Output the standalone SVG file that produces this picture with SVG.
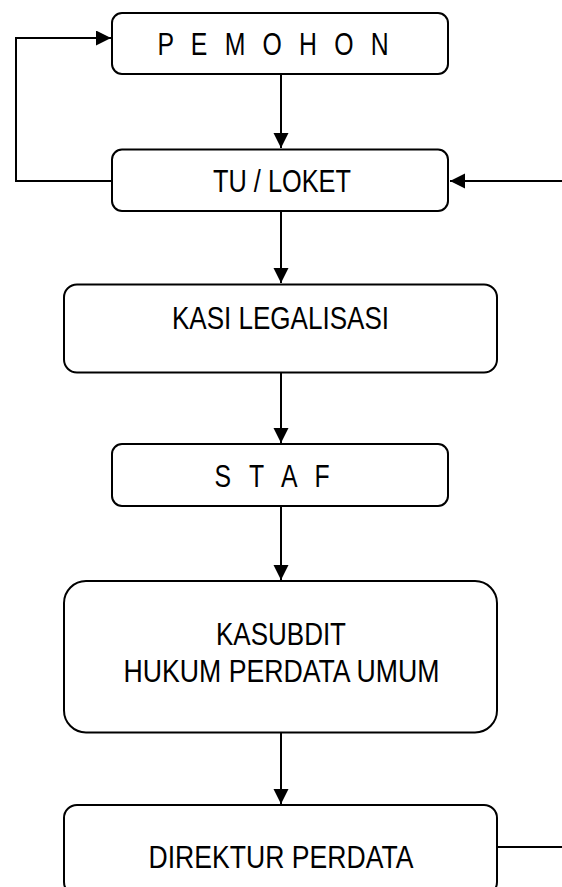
<svg xmlns="http://www.w3.org/2000/svg" width="562" height="887" viewBox="0 0 562 887">
<style>
.box{fill:#fff;stroke:#000;stroke-width:2}
.lbl{font-family:"Liberation Sans Narrow","Liberation Sans",Arial,sans-serif;font-size:31px;fill:#000}
.con{fill:none;stroke:#000;stroke-width:2}
</style>
<defs>
<marker id="ah" markerUnits="userSpaceOnUse" markerWidth="16" markerHeight="16" refX="15" refY="7.5" orient="auto">
<path d="M0,0 L15,7.5 L0,15 z" fill="#000"/>
</marker>
</defs>
<g id="connectors">
<line class="con" x1="281" y1="74" x2="281" y2="148" marker-end="url(#ah)"/>
<line class="con" x1="281" y1="211" x2="281" y2="283" marker-end="url(#ah)"/>
<line class="con" x1="281" y1="373" x2="281" y2="443" marker-end="url(#ah)"/>
<line class="con" x1="281" y1="506" x2="281" y2="580" marker-end="url(#ah)"/>
<line class="con" x1="281" y1="732" x2="281" y2="804" marker-end="url(#ah)"/>
<polyline class="con" points="112,181 16,181 16,38 111,38" marker-end="url(#ah)"/>
<line class="con" x1="562" y1="181" x2="450" y2="181" marker-end="url(#ah)"/>
<line class="con" x1="497" y1="847" x2="562" y2="847"/>
</g>
<g id="pemohon">
<rect class="box" x="112" y="13" width="336" height="61" rx="10"/>
<text class="lbl" transform="translate(157.5,54.5) scale(0.8,1)" x="0" y="0" textLength="289" lengthAdjust="spacing">P E M O H O N</text>
</g>
<g id="tu-loket">
<rect class="box" x="112" y="149.5" width="336" height="61.5" rx="10"/>
<text class="lbl" x="213" y="191.7" textLength="138" lengthAdjust="spacingAndGlyphs">TU / LOKET</text>
</g>
<g id="kasi-legalisasi">
<rect class="box" x="64" y="284.5" width="433" height="88" rx="13"/>
<text class="lbl" x="172" y="328.5" textLength="217" lengthAdjust="spacingAndGlyphs">KASI LEGALISASI</text>
</g>
<g id="staf">
<rect class="box" x="112" y="444" width="336" height="62" rx="10"/>
<text class="lbl" transform="translate(214.5,486.7) scale(0.8,1)" x="0" y="0" textLength="144" lengthAdjust="spacing">S T A F</text>
</g>
<g id="kasubdit">
<rect class="box" x="64" y="581" width="433" height="151.5" rx="22"/>
<text class="lbl" x="216" y="645" textLength="130" lengthAdjust="spacingAndGlyphs">KASUBDIT</text>
<text class="lbl" x="123.5" y="682.3" textLength="316" lengthAdjust="spacingAndGlyphs">HUKUM PERDATA UMUM</text>
</g>
<g id="direktur-perdata">
<rect class="box" x="64" y="805" width="433" height="90" rx="13"/>
<text class="lbl" x="148.5" y="867.7" textLength="265" lengthAdjust="spacingAndGlyphs">DIREKTUR PERDATA</text>
</g>
</svg>
